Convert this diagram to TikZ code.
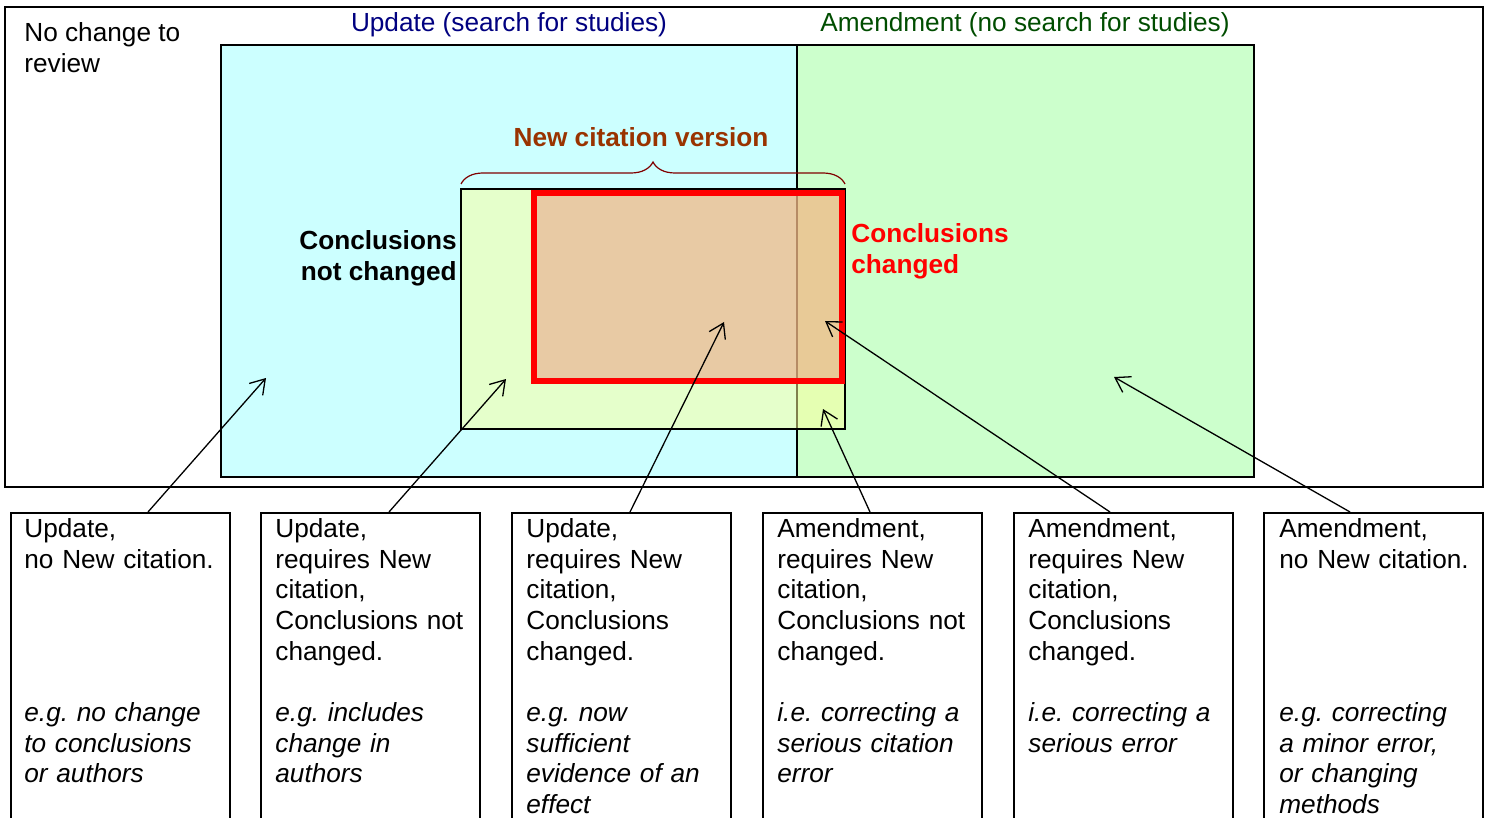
\documentclass[tikz,border=0pt]{standalone}
\usepackage{fontspec}
\setmainfont{Liberation Sans}
\usetikzlibrary{arrows.meta,decorations.pathreplacing,positioning}
\frenchspacing

\definecolor{updblue}{RGB}{204,255,255}
\definecolor{amdgreen}{RGB}{204,255,204}
\definecolor{citeyellow}{RGB}{255,255,153}
\definecolor{chgfill}{RGB}{236,150,126}
\definecolor{navytext}{RGB}{0,0,128}
\definecolor{greentext}{RGB}{0,77,0}
\definecolor{bracered}{RGB}{128,0,0}
\definecolor{citebrown}{RGB}{153,51,0}

\begin{document}
\begin{tikzpicture}[x=0.5pt,y=-0.5pt,
		every node/.style={font=\fontsize{13.1}{15.35}\selectfont, inner sep=0pt},
		boldlabel/.style={font=\fontsize{13.1}{15.35}\selectfont\bfseries},
		casebox/.style={draw, line width=0.8pt, anchor=north west, minimum width=109.5pt, minimum height=170pt},
		casetext/.style={anchor=north west, align=left, text width=104pt},
		pointer/.style={->, >={Straight Barb[length=7pt,width=9pt]}, line width=0.65pt}]
	
	\useasboundingbox (0,0) rectangle (1489,818);
	
	\begin{scope}
		\draw[line width=0.8pt] (5,7) rectangle (1483,487);
		\filldraw[fill=updblue, semithick] (221,45) rectangle (797,477);
		\filldraw[fill=amdgreen, semithick] (797,45) rectangle (1254,477);
		
		\filldraw[fill=citeyellow, fill opacity=0.5, semithick] (461,189) rectangle (845,429);
		\filldraw[draw=red, fill=chgfill, fill opacity=0.5, line width=3pt] (533.5,193) rectangle (842,381);
		
		\draw[bracered, line width=0.6pt, decorate, decoration={brace, amplitude=11pt}] (461,184) -- (845,184);
	\end{scope}
	
	\node[anchor=west, align=left] (nochange) at (24,47.5) {No change to\\review};
	\node[navytext] (updlabel) at (509,25) {Update (search for studies)};
	\node[greentext] (amdlabel) at (1025,25) {Amendment (no search for studies)};
	\node[boldlabel, citebrown] (newcite) at (641,137) {New citation version};
	\node[boldlabel, anchor=east, align=right] (notchanged) at (457,258) {Conclusions\\not changed};
	\node[boldlabel, anchor=west, align=left, red] (changed) at (851,251) {Conclusions\\changed};
	
	\node[casebox] (c1) at (10,512) {};
	\node[casebox] (c2) at (260,512) {};
	\node[casebox] (c3) at (511,512) {};
	\node[casebox] (c4) at (762,512) {};
	\node[casebox] (c5) at (1013,512) {};
	\node[casebox] (c6) at (1263,512) {};
	
	\node[casetext] (t1) at (24,518) {Update,\\no New citation.\\[4\baselineskip]
		\itshape e.g. no change\\to conclusions\\or authors};
	\node[casetext] (t2) at (275,518) {Update,\\requires New\\citation,\\Conclusions not\\changed.\\[\baselineskip]
		\itshape e.g. includes\\change in\\authors};
	\node[casetext] (t3) at (526,518) {Update,\\requires New\\citation,\\Conclusions\\changed.\\[\baselineskip]
		\itshape e.g. now\\sufficient\\evidence of an\\effect};
	\node[casetext] (t4) at (777,518) {Amendment,\\requires New\\citation,\\Conclusions not\\changed.\\[\baselineskip]
		\itshape i.e. correcting a\\serious citation\\error};
	\node[casetext] (t5) at (1028,518) {Amendment,\\requires New\\citation,\\Conclusions\\changed.\\[\baselineskip]
		\itshape i.e. correcting a\\serious error};
	\node[casetext] (t6) at (1279,518) {Amendment,\\no New citation.\\[4\baselineskip]
		\itshape e.g. correcting\\a minor error,\\or changing\\methods};
	
	\coordinate (a1) at (266,378);
	\coordinate (a2) at (506,379);
	\coordinate (a3) at (724,322);
	\coordinate (a4) at (823,409);
	\coordinate (a5) at (825,321);
	\coordinate (a6) at (1114,377);
	
	\draw[pointer] ([xshift=69pt]c1.north west) -- (a1);
	\draw[pointer] ([xshift=64.5pt]c2.north west) -- (a2);
	\draw[pointer] ([xshift=59.5pt]c3.north west) -- (a3);
	\draw[pointer] ([xshift=54pt]c4.north west) -- (a4);
	\draw[pointer] ([xshift=48.5pt]c5.north west) -- (a5);
	\draw[pointer] ([xshift=43.5pt]c6.north west) -- (a6);
	
\end{tikzpicture}
\end{document}
